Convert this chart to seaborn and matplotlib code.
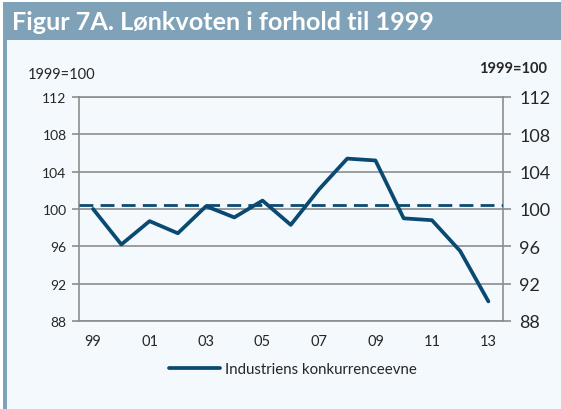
import numpy as np
import pandas as pd
import matplotlib.pyplot as plt
import seaborn as sns
from matplotlib.patches import Rectangle

# Data (index, 1999=100)
years = list(range(1999, 2014))
year_labels = ["99", "01", "03", "05", "07", "09", "11", "13"]
konkurranseevne = [100.0, 96.2, 98.7, 97.4, 100.3, 99.1, 100.9, 98.3,
                   102.1, 105.4, 105.2, 99.0, 98.8, 95.5, 90.1]
ref_level = 100.4
y_ticks = [88, 92, 96, 100, 104, 108, 112]

series_name = "Industriens konkurrenceevne"
line_col = "#0b4a70"
grid_col = "#8c8c8c"
bg_col = "#f4f9fd"
band_col = "#7fa2b8"

sns.set_theme(style="white")
plt.rcParams["font.family"] = ["Lato", "DejaVu Sans"]

df = pd.DataFrame({"pos": np.arange(len(years)), "year": years,
                   "verdi": konkurranseevne, "serie": series_name})

W, H = 561, 410
fig = plt.figure(figsize=(W / 100, H / 100), dpi=100)
fig.patch.set_facecolor("white")
# background panel, title band and left strip
fig.patches.append(Rectangle((3 / W, 0), 1, 1 - 3 / H, transform=fig.transFigure,
                             facecolor=bg_col, edgecolor="none", zorder=-3))
fig.patches.append(Rectangle((3 / W, 1 - 41 / H), 1, 38 / H, transform=fig.transFigure,
                             facecolor=band_col, edgecolor="none", zorder=-2))
fig.patches.append(Rectangle((3 / W, 0), 4 / W, 1 - 41 / H, transform=fig.transFigure,
                             facecolor=band_col, edgecolor="none", zorder=-2))

fig.text(12 / W, 1 - 22 / H, "Figur 7A. Lønkvoten i forhold til 1999", color="white",
         fontsize=18.2, fontweight="bold", va="center", ha="left")

ax = fig.add_axes([79 / W, 1 - 322 / H, (502.5 - 79) / W, (322 - 98) / H])
ax.set_facecolor(bg_col)

ax.axhline(ref_level, color=line_col, lw=2, dashes=(5, 2.6), zorder=3)
sns.lineplot(data=df, x="pos", y="verdi", hue="serie", palette=[line_col],
             lw=2.7, ax=ax, legend=False, zorder=4)

ax.set_xlim(-0.5, len(years) - 0.5)
ax.set_ylim(88, 112)
ax.set_yticks(y_ticks)
ax.set_yticklabels([str(v) for v in y_ticks], fontsize=10)
ax.yaxis.grid(True, color=grid_col, lw=1.2)
ax.set_axisbelow(True)

# tick marks on category boundaries, labels centred on every second year
ax.set_xticks(np.arange(-0.5, len(years) - 1, 2))
ax.set_xticklabels([])
ax.set_xticks(np.arange(0, len(years), 2), minor=True)
ax.set_xticklabels(year_labels, minor=True, fontsize=10.5)
ax.tick_params(axis="x", which="major", length=4, width=1.2, color=grid_col, direction="out")
ax.tick_params(axis="x", which="minor", length=0, pad=9)
ax.tick_params(axis="y", length=5, width=1.2, color=grid_col, direction="out", pad=4)
ax.set_xlabel("")
ax.set_ylabel("")
for side in ["left", "right", "bottom", "top"]:
    ax.spines[side].set_visible(True)
    ax.spines[side].set_color(grid_col)
    ax.spines[side].set_linewidth(1.2)

ax2 = ax.twinx()
ax2.set_ylim(88, 112)
ax2.set_yticks(y_ticks)
ax2.set_yticklabels([str(v) for v in y_ticks], fontsize=13)
ax2.tick_params(axis="y", length=6, width=1.2, color=grid_col, direction="out", pad=6)
for side in ["left", "right", "bottom", "top"]:
    ax2.spines[side].set_visible(False)

fig.text(28 / W, 1 - 75 / H, "1999=100", fontsize=10.5, va="center", ha="left")
fig.text(547 / W, 1 - 69 / H, "1999=100", fontsize=10.5, fontweight="bold",
         va="center", ha="right")

# legend
handle = plt.Line2D([], [], color=line_col, lw=2.7)
fig.legend([handle], [series_name], loc="center", bbox_to_anchor=(293 / W, 1 - 370 / H),
           frameon=False, fontsize=10.8, handlelength=3.4, handletextpad=0.3)

fig.savefig("out.png", dpi=100, facecolor=fig.get_facecolor())
